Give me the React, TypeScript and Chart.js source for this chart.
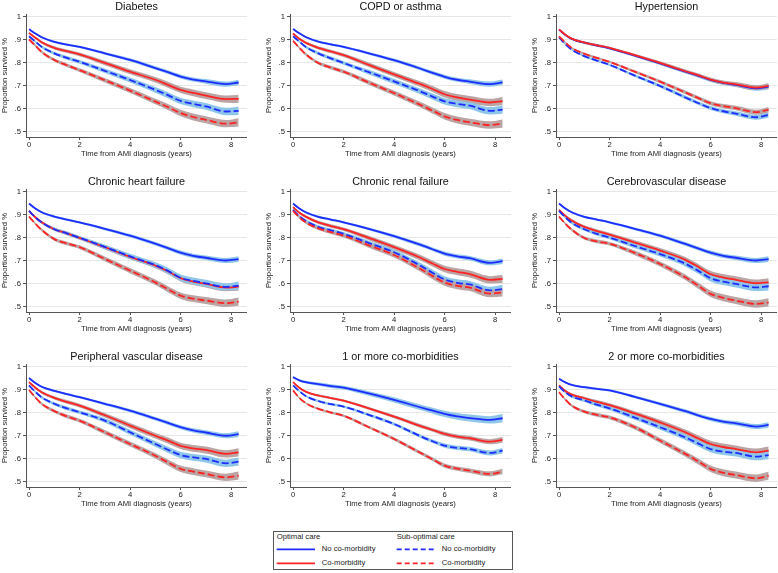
import React, { useEffect, useRef } from "react";
import { Chart, registerables } from "chart.js";

Chart.register(...registerables);

// ---------- data ----------
const years = [0, 0.25, 0.5, 1, 1.5, 2, 3, 4, 5, 5.5, 6, 6.5, 7, 7.8, 8.3];
const xTicks = [0, 2, 4, 6, 8];
const yTicks = [0.5, 0.6, 0.7, 0.8, 0.9, 1];

const panelTitles = [
  "Diabetes",
  "COPD or asthma",
  "Hypertension",
  "Chronic heart failure",
  "Chronic renal failure",
  "Cerebrovascular disease",
  "Peripheral vascular disease",
  "1 or more co-morbidities",
  "2 or more co-morbidities",
];

const legendTitles = ["Optimal care", "Sub-optimal care"];
const legendLabels = ["No co-morbidity", "Co-morbidity"];
const xAxisTitle = "Time from AMI diagnosis (years)";
const yAxisTitle = "Proportion survived %";

// Diabetes
const diabetesOptNo = [0.947, 0.928, 0.912, 0.892, 0.880, 0.870, 0.842, 0.813, 0.778, 0.760, 0.741, 0.728, 0.720, 0.708, 0.715];
const diabetesOptCo = [0.931, 0.910, 0.890, 0.866, 0.851, 0.837, 0.800, 0.762, 0.727, 0.705, 0.683, 0.670, 0.658, 0.643, 0.644];
const diabetesSubNo = [0.916, 0.893, 0.870, 0.842, 0.822, 0.805, 0.766, 0.726, 0.683, 0.660, 0.635, 0.622, 0.611, 0.589, 0.592];
const diabetesSubCo = [0.902, 0.876, 0.848, 0.813, 0.790, 0.769, 0.725, 0.680, 0.632, 0.608, 0.582, 0.565, 0.553, 0.536, 0.542];

// COPD or asthma
const copdOptNo = [0.948, 0.929, 0.913, 0.893, 0.881, 0.870, 0.842, 0.812, 0.777, 0.758, 0.740, 0.727, 0.719, 0.708, 0.716];
const copdOptCo = [0.928, 0.905, 0.888, 0.866, 0.850, 0.834, 0.792, 0.750, 0.710, 0.688, 0.664, 0.650, 0.641, 0.628, 0.634];
const copdSubNo = [0.916, 0.893, 0.870, 0.842, 0.820, 0.800, 0.760, 0.720, 0.678, 0.655, 0.633, 0.622, 0.614, 0.592, 0.597];
const copdSubCo = [0.896, 0.866, 0.838, 0.800, 0.780, 0.762, 0.715, 0.669, 0.620, 0.594, 0.568, 0.552, 0.542, 0.530, 0.536];

// Hypertension
const hypOptNo = [0.945, 0.922, 0.905, 0.888, 0.876, 0.864, 0.832, 0.798, 0.762, 0.745, 0.726, 0.713, 0.705, 0.690, 0.697];
const hypOptCo = [0.946, 0.923, 0.906, 0.889, 0.877, 0.866, 0.834, 0.800, 0.764, 0.747, 0.728, 0.715, 0.707, 0.693, 0.700];
const hypSubNo = [0.912, 0.882, 0.858, 0.830, 0.810, 0.792, 0.745, 0.700, 0.650, 0.626, 0.604, 0.590, 0.580, 0.564, 0.574];
const hypSubCo = [0.916, 0.889, 0.866, 0.840, 0.822, 0.805, 0.762, 0.719, 0.672, 0.648, 0.625, 0.612, 0.604, 0.586, 0.597];

// Chronic heart failure
const chfOptNo = [0.950, 0.928, 0.912, 0.893, 0.880, 0.868, 0.840, 0.810, 0.775, 0.756, 0.736, 0.722, 0.714, 0.702, 0.708];
const chfOptCo = [0.918, 0.890, 0.868, 0.838, 0.820, 0.800, 0.760, 0.718, 0.680, 0.655, 0.625, 0.610, 0.600, 0.584, 0.588];
const chfSubNo = [0.918, 0.890, 0.868, 0.838, 0.820, 0.801, 0.761, 0.720, 0.682, 0.657, 0.627, 0.613, 0.603, 0.587, 0.593];
const chfSubCo = [0.893, 0.862, 0.835, 0.795, 0.776, 0.760, 0.709, 0.658, 0.607, 0.577, 0.549, 0.536, 0.528, 0.516, 0.523];

// Chronic renal failure
const renalOptNo = [0.950, 0.928, 0.912, 0.892, 0.880, 0.868, 0.840, 0.808, 0.772, 0.752, 0.732, 0.720, 0.712, 0.692, 0.699];
const renalOptCo = [0.934, 0.910, 0.893, 0.868, 0.852, 0.838, 0.800, 0.760, 0.716, 0.690, 0.665, 0.653, 0.643, 0.618, 0.622];
const renalSubNo = [0.922, 0.895, 0.875, 0.848, 0.833, 0.818, 0.778, 0.738, 0.682, 0.650, 0.620, 0.605, 0.598, 0.572, 0.578];
const renalSubCo = [0.918, 0.890, 0.868, 0.842, 0.825, 0.810, 0.768, 0.726, 0.668, 0.636, 0.606, 0.592, 0.584, 0.558, 0.563];

// Cerebrovascular disease
const cereOptNo = [0.950, 0.928, 0.912, 0.892, 0.880, 0.868, 0.840, 0.810, 0.774, 0.755, 0.736, 0.722, 0.714, 0.702, 0.708];
const cereOptCo = [0.922, 0.896, 0.876, 0.848, 0.830, 0.815, 0.780, 0.745, 0.705, 0.675, 0.642, 0.628, 0.618, 0.603, 0.607];
const cereSubNo = [0.918, 0.890, 0.866, 0.838, 0.818, 0.802, 0.765, 0.730, 0.688, 0.658, 0.625, 0.610, 0.600, 0.585, 0.590];
const cereSubCo = [0.893, 0.862, 0.836, 0.800, 0.785, 0.775, 0.735, 0.687, 0.629, 0.593, 0.557, 0.540, 0.528, 0.513, 0.520];

// Peripheral vascular disease
const pvdOptNo = [0.952, 0.930, 0.914, 0.896, 0.882, 0.869, 0.840, 0.810, 0.775, 0.757, 0.738, 0.724, 0.715, 0.701, 0.708];
const pvdOptCo = [0.934, 0.910, 0.890, 0.866, 0.848, 0.832, 0.790, 0.745, 0.701, 0.680, 0.657, 0.646, 0.639, 0.622, 0.629];
const pvdSubNo = [0.920, 0.892, 0.868, 0.840, 0.820, 0.803, 0.767, 0.716, 0.665, 0.640, 0.617, 0.607, 0.600, 0.581, 0.588];
const pvdSubCo = [0.900, 0.868, 0.840, 0.808, 0.785, 0.767, 0.716, 0.665, 0.614, 0.585, 0.557, 0.545, 0.535, 0.520, 0.527];

// 1 or more co-morbidities
const onePlusOptNo = [0.956, 0.942, 0.934, 0.925, 0.917, 0.910, 0.885, 0.857, 0.826, 0.811, 0.796, 0.785, 0.778, 0.770, 0.777];
const onePlusOptCo = [0.934, 0.910, 0.893, 0.876, 0.865, 0.854, 0.820, 0.784, 0.745, 0.727, 0.709, 0.697, 0.690, 0.675, 0.683];
const onePlusSubNo = [0.920, 0.895, 0.874, 0.852, 0.838, 0.828, 0.792, 0.752, 0.701, 0.678, 0.658, 0.648, 0.643, 0.626, 0.636];
const onePlusSubCo = [0.898, 0.866, 0.843, 0.818, 0.802, 0.788, 0.738, 0.687, 0.629, 0.600, 0.571, 0.558, 0.549, 0.535, 0.545];

// 2 or more co-morbidities
const twoPlusOptNo = [0.949, 0.933, 0.922, 0.912, 0.905, 0.898, 0.870, 0.840, 0.808, 0.790, 0.774, 0.762, 0.755, 0.741, 0.748];
const twoPlusOptCo = [0.920, 0.896, 0.880, 0.864, 0.848, 0.834, 0.798, 0.759, 0.716, 0.690, 0.665, 0.652, 0.643, 0.629, 0.636];
const twoPlusSubNo = [0.916, 0.890, 0.872, 0.855, 0.836, 0.820, 0.780, 0.738, 0.694, 0.668, 0.643, 0.632, 0.626, 0.610, 0.617];
const twoPlusSubCo = [0.890, 0.858, 0.832, 0.806, 0.792, 0.781, 0.738, 0.680, 0.622, 0.590, 0.557, 0.540, 0.530, 0.516, 0.527];

// confidence band half-widths
const ciNarrow = [0.003, 0.004, 0.004, 0.005, 0.005, 0.005, 0.006, 0.007, 0.008, 0.008, 0.009, 0.009, 0.010, 0.011, 0.012];
const ciWide = [0.004, 0.005, 0.006, 0.007, 0.008, 0.008, 0.010, 0.011, 0.012, 0.013, 0.014, 0.015, 0.015, 0.016, 0.018];

// ---------- styling / layout ----------
const FONT = "'Liberation Sans', Arial, Helvetica, sans-serif";
const BLUE = "#1e2cff";
const RED = "#ff2424";
const BLUE_BAND = "#8ec6ea";
const GREY_BAND = "#bba4a4";
const DASH = [7, 3];

const canvasLefts = [0, 264, 530];
const canvasTops = [0, 175, 350];
const CANVAS_W = 247;
const CANVAS_H = 159;

const panels = [
  { title: panelTitles[0], optNo: diabetesOptNo, optCo: diabetesOptCo, subNo: diabetesSubNo, subCo: diabetesSubCo, ciNo: ciNarrow, ciCo: ciWide },
  { title: panelTitles[1], optNo: copdOptNo, optCo: copdOptCo, subNo: copdSubNo, subCo: copdSubCo, ciNo: ciNarrow, ciCo: ciWide },
  { title: panelTitles[2], optNo: hypOptNo, optCo: hypOptCo, subNo: hypSubNo, subCo: hypSubCo, ciNo: ciNarrow, ciCo: ciNarrow },
  { title: panelTitles[3], optNo: chfOptNo, optCo: chfOptCo, subNo: chfSubNo, subCo: chfSubCo, ciNo: ciNarrow, ciCo: ciWide },
  { title: panelTitles[4], optNo: renalOptNo, optCo: renalOptCo, subNo: renalSubNo, subCo: renalSubCo, ciNo: ciNarrow, ciCo: ciWide },
  { title: panelTitles[5], optNo: cereOptNo, optCo: cereOptCo, subNo: cereSubNo, subCo: cereSubCo, ciNo: ciNarrow, ciCo: ciWide },
  { title: panelTitles[6], optNo: pvdOptNo, optCo: pvdOptCo, subNo: pvdSubNo, subCo: pvdSubCo, ciNo: ciNarrow, ciCo: ciWide },
  { title: panelTitles[7], optNo: onePlusOptNo, optCo: onePlusOptCo, subNo: onePlusSubNo, subCo: onePlusSubCo, ciNo: ciWide, ciCo: ciNarrow },
  { title: panelTitles[8], optNo: twoPlusOptNo, optCo: twoPlusOptCo, subNo: twoPlusSubNo, subCo: twoPlusSubCo, ciNo: ciNarrow, ciCo: ciWide },
];

const panelTitlePlugin = {
  id: "panelTitle",
  afterDraw(chart: any, _args: any, opts: any) {
    const { ctx, chartArea } = chart;
    ctx.save();
    ctx.font = `${opts.size}px ${FONT}`;
    ctx.fillStyle = "#111";
    ctx.textAlign = "center";
    ctx.textBaseline = "middle";
    ctx.fillText(opts.text, (chartArea.left + chartArea.right) / 2, chartArea.top - 7.3);
    ctx.restore();
  },
};

function toPoints(values: number[], offset?: number[], sign = 0) {
  return years.map((x, i) => ({ x, y: values[i] + (offset ? sign * offset[i] : 0) }));
}

function band(values: number[], ci: number[], color: string, order: number) {
  const common = {
    borderColor: "rgba(0,0,0,0)",
    borderWidth: 0,
    pointRadius: 0,
    pointHoverRadius: 0,
    backgroundColor: color,
    cubicInterpolationMode: "monotone" as const,
    order,
  };
  return [
    { ...common, data: toPoints(values, ci, -1), fill: false },
    { ...common, data: toPoints(values, ci, 1), fill: "-1" },
  ];
}

function line(values: number[], color: string, dashed: boolean, order: number) {
  return {
    data: toPoints(values),
    borderColor: color,
    backgroundColor: color,
    borderWidth: 1.8,
    borderDash: dashed ? DASH : [],
    pointRadius: 0,
    pointHoverRadius: 0,
    fill: false,
    cubicInterpolationMode: "monotone" as const,
    order,
  };
}

function makeConfig(p: any) {
  return {
    type: "line" as const,
    data: {
      datasets: [
        ...band(p.optNo, p.ciNo, BLUE_BAND, 14),
        ...band(p.optCo, p.ciCo, GREY_BAND, 13),
        ...band(p.subNo, p.ciCo, BLUE_BAND, 12),
        ...band(p.subCo, p.ciCo, GREY_BAND, 11),
        line(p.optNo, BLUE, false, 4),
        line(p.optCo, RED, false, 3),
        line(p.subNo, BLUE, true, 2),
        line(p.subCo, RED, true, 1),
      ],
    },
    options: {
      responsive: false,
      animation: false as const,
      events: [],
      layout: { padding: { top: 14, left: 0, right: 0, bottom: 0 } },
      plugins: {
        legend: { display: false },
        tooltip: { enabled: false },
        title: { display: false },
        filler: { drawTime: "beforeDatasetsDraw" as const },
        panelTitle: { text: p.title, size: 10.8 },
      },
      scales: {
        x: {
          type: "linear" as const,
          min: -0.12,
          max: 8.63,
          afterBuildTicks: (s: any) => {
            s.ticks = xTicks.map((value) => ({ value }));
          },
          afterFit: (s: any) => {
            s.height = 22;
          },
          ticks: {
            font: { size: 7.7, family: FONT },
            color: "#222",
            padding: 0,
            maxRotation: 0,
            callback: (v: any) => String(v),
          },
          grid: { drawOnChartArea: false, drawTicks: true, tickLength: 3, tickColor: "#555" },
          border: { display: true, color: "#555", width: 1 },
          title: { display: true, text: xAxisTitle, font: { size: 7.7, family: FONT }, color: "#222", padding: 0 },
        },
        y: {
          type: "linear" as const,
          min: 0.478,
          max: 1.013,
          afterBuildTicks: (s: any) => {
            s.ticks = yTicks.map((value) => ({ value }));
          },
          afterFit: (s: any) => {
            s.width = 26;
          },
          ticks: {
            font: { size: 7.7, family: FONT },
            color: "#222",
            padding: 2,
            callback: (v: any) => (Number(v) >= 0.999 ? "1" : "." + Math.round(Number(v) * 10)),
          },
          grid: { color: "#e6e6e6", lineWidth: 1, drawTicks: true, tickLength: 3, tickColor: "#555" },
          border: { display: true, color: "#555", width: 1 },
          title: { display: true, text: yAxisTitle, font: { size: 7.7, family: FONT }, color: "#222", padding: 0 },
        },
      },
    },
    plugins: [panelTitlePlugin],
  };
}

export default function App() {
  const refs = useRef<(HTMLCanvasElement | null)[]>([]);

  useEffect(() => {
    const charts = panels.map((p, i) => new Chart(refs.current[i] as HTMLCanvasElement, makeConfig(p) as any));
    return () => charts.forEach((c) => c.destroy());
  }, []);

  const textStyle: React.CSSProperties = {
    position: "absolute",
    fontFamily: FONT,
    fontSize: 7.7,
    lineHeight: "10px",
    color: "#222",
    whiteSpace: "nowrap",
  };

  return (
    <div style={{ position: "fixed", left: 0, top: 0, width: 778, height: 573, background: "#fff", overflow: "hidden" }}>
      {panels.map((p, i) => (
        <canvas
          key={p.title}
          ref={(el) => {
            refs.current[i] = el;
          }}
          width={CANVAS_W}
          height={CANVAS_H}
          style={{
            position: "absolute",
            left: canvasLefts[i % 3],
            top: canvasTops[Math.floor(i / 3)],
            width: CANVAS_W,
            height: CANVAS_H,
          }}
        />
      ))}
      <div
        style={{
          position: "absolute",
          left: 273,
          top: 531,
          width: 240,
          height: 39,
          border: "1px solid #555",
          boxSizing: "border-box",
          background: "#fff",
        }}
      >
        <svg width={238} height={37} style={{ position: "absolute", left: 0, top: 0 }}>
          <line x1={2.7} x2={41} y1={17.3} y2={17.3} stroke={BLUE} strokeWidth={1.7} />
          <line x1={2.7} x2={41} y1={31.3} y2={31.3} stroke={RED} strokeWidth={1.7} />
          <line x1={122.7} x2={161} y1={17.3} y2={17.3} stroke={BLUE} strokeWidth={1.7} strokeDasharray="5,3" />
          <line x1={122.7} x2={161} y1={31.3} y2={31.3} stroke={RED} strokeWidth={1.7} strokeDasharray="5,3" />
        </svg>
        <span style={{ ...textStyle, left: 2.7, top: -0.3 }}>{legendTitles[0]}</span>
        <span style={{ ...textStyle, left: 122.7, top: -0.3 }}>{legendTitles[1]}</span>
        <span style={{ ...textStyle, left: 47.7, top: 12.3 }}>{legendLabels[0]}</span>
        <span style={{ ...textStyle, left: 47.7, top: 26.3 }}>{legendLabels[1]}</span>
        <span style={{ ...textStyle, left: 167.7, top: 12.3 }}>{legendLabels[0]}</span>
        <span style={{ ...textStyle, left: 167.7, top: 26.3 }}>{legendLabels[1]}</span>
      </div>
    </div>
  );
}
